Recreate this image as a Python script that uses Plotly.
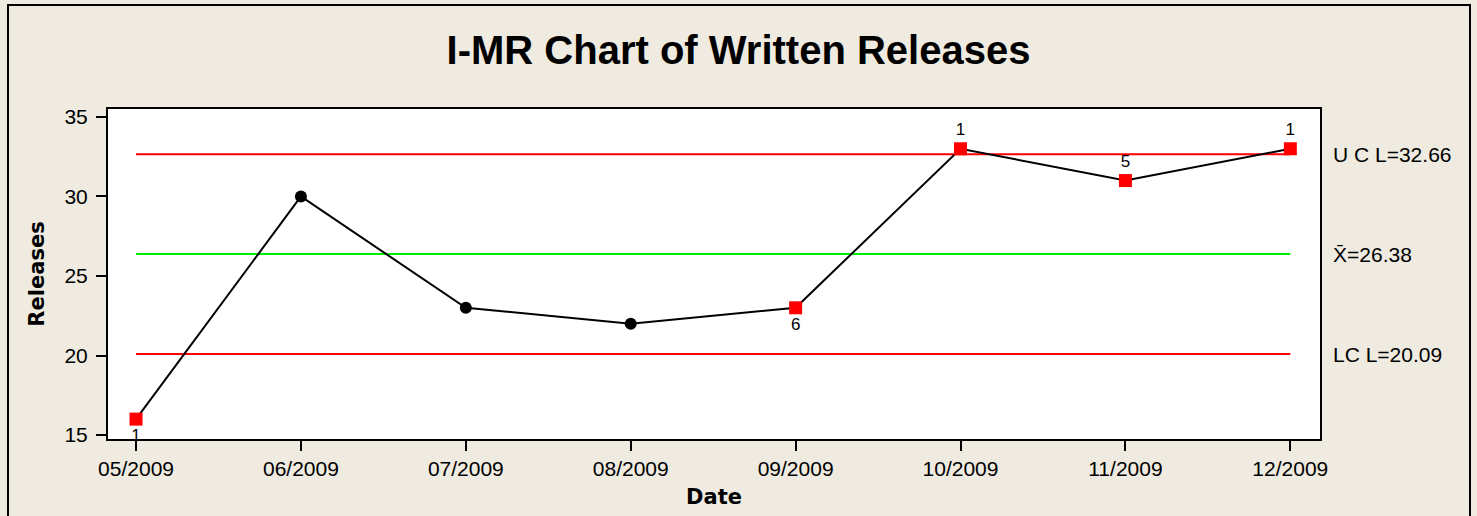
import plotly.graph_objects as go

# Monthly written releases
dates = ["05/2009", "06/2009", "07/2009", "08/2009", "09/2009", "10/2009", "11/2009", "12/2009"]
releases = [16, 30, 23, 22, 23, 33, 31, 33]

# Control limits
ucl = 32.66
center = 26.38
lcl = 20.09

# Test-failure flags: test number shown beside the point (empty = in control)
flags = ["1", "", "", "", "6", "1", "5", "1"]
flag_pos = ["bottom center", "", "", "", "bottom center", "top center", "top center", "top center"]

W, H = 1477, 516
L, R, T, B = 108, 157, 109, 77
pw, ph = W - L - R, H - T - B

def px_x(p):
    return (p - L) / pw

def px_y(p):
    return (H - B - p) / ph

idx = list(range(len(dates)))
bg = "#EFEBE1"
bold_font = "DejaVu Sans"
text_font = "Liberation Sans"

fig = go.Figure()

# Limit lines
for val, col in [(ucl, "#FF0000"), (center, "#00EE00"), (lcl, "#FF0000")]:
    fig.add_trace(go.Scatter(x=[idx[0], idx[-1]], y=[val, val], mode="lines",
                             line=dict(color=col, width=2), hoverinfo="skip", showlegend=False))

# Connecting line with in-control points as circles
fig.add_trace(go.Scatter(x=idx, y=releases, mode="lines",
                         line=dict(color="black", width=2), showlegend=False))
ok = [i for i in idx if not flags[i]]
fig.add_trace(go.Scatter(x=ok, y=[releases[i] for i in ok], mode="markers",
                         marker=dict(symbol="circle", size=12, color="black"), showlegend=False))

# Out-of-control points as red squares with their test labels
bad = [i for i in idx if flags[i]]
fig.add_trace(go.Scatter(x=bad, y=[releases[i] for i in bad], mode="markers+text",
                         marker=dict(symbol="square", size=13, color="#FF0000"),
                         text=[flags[i] for i in bad],
                         textposition=[flag_pos[i] for i in bad],
                         textfont=dict(family=text_font, size=17, color="black"),
                         showlegend=False))

# Limit labels at the right
for val, txt in [(ucl, "U C L=32.66"), (center, "X\u0304=26.38"), (lcl, "LC L=20.09")]:
    fig.add_annotation(x=px_x(1331), xref="paper", y=val, yref="y", text=txt,
                       showarrow=False, xanchor="left", yanchor="middle",
                       font=dict(family=text_font, size=21, color="black"))

# Outer frame
fig.add_shape(type="rect", xref="paper", yref="paper",
              x0=px_x(8), x1=px_x(1470), y0=px_y(530), y1=px_y(5),
              line=dict(color="black", width=2), layer="below")

fig.update_layout(
    width=W, height=H,
    margin=dict(l=L, r=R, t=T, b=B),
    paper_bgcolor=bg, plot_bgcolor="white",
    title=dict(text="<b>I-MR Chart of Written Releases</b>", x=0.5, xanchor="center",
               xref="container", y=1 - 50 / H, yanchor="middle",
               font=dict(family=text_font, size=40, color="black")),
    font=dict(family=text_font, size=21, color="black"),
    xaxis=dict(range=[-0.17, 7.18], tickvals=idx, ticktext=dates,
               showgrid=False, zeroline=False, showline=True, linecolor="black",
               linewidth=2, mirror=True, ticks="outside", ticklen=10, tickwidth=2,
               tickcolor="black", tickfont=dict(family=text_font, size=21),
               title=dict(text="<b>Date</b>", font=dict(family=bold_font, size=21), standoff=10)),
    yaxis=dict(range=[14.75, 35.5], tickvals=[15, 20, 25, 30, 35],
               showgrid=False, zeroline=False, showline=True, linecolor="black",
               linewidth=2, mirror=True, ticks="outside", ticklen=10, tickwidth=2,
               tickcolor="black", tickfont=dict(family=text_font, size=21),
               ticklabelstandoff=4,
               title=dict(text="<b>Releases</b>", font=dict(family=bold_font, size=21), standoff=14)),
)

fig.write_html("out.html")
